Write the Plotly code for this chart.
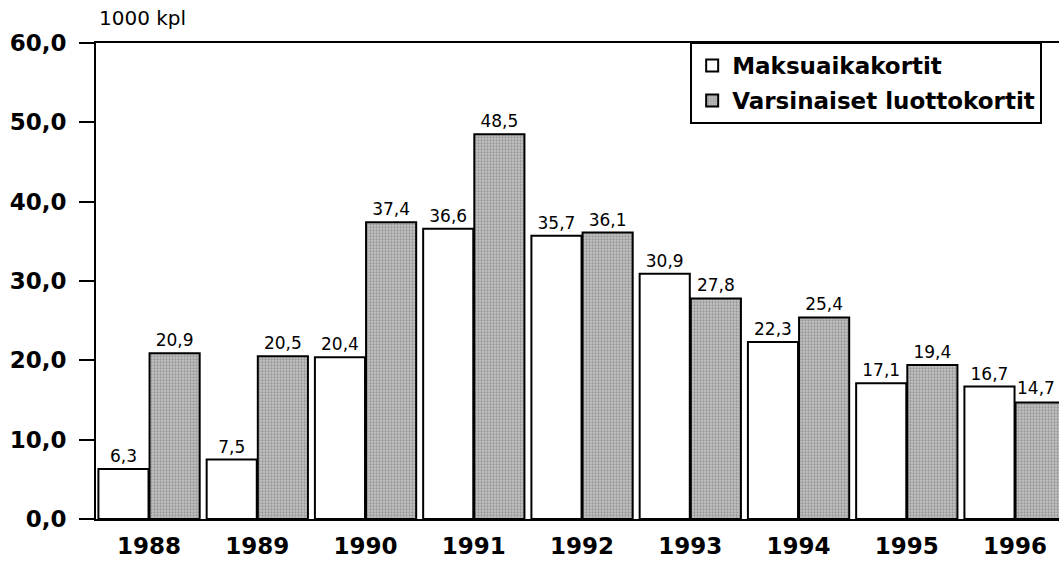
import plotly.graph_objects as go

years = ["1988", "1989", "1990", "1991", "1992", "1993", "1994", "1995", "1996"]
maksuaika = [6.3, 7.5, 20.4, 36.6, 35.7, 30.9, 22.3, 17.1, 16.7]
varsinaiset = [20.9, 20.5, 37.4, 48.5, 36.1, 27.8, 25.4, 19.4, 14.7]
yticks = [0, 10, 20, 30, 40, 50, 60]
ytick_text = ["0,0", "10,0", "20,0", "30,0", "40,0", "50,0", "60,0"]

BOLD = dict(family="DejaVu Sans", weight="bold", color="black")
LABEL_FONT = dict(size=17, color="black", family="DejaVu Sans")


def fi(v):
    return f"{v:.1f}".replace(".", ",")


# last grey label sits at the right edge, drawn as an annotation so it stays visible
grey_text = [fi(v) for v in varsinaiset[:-1]] + [""]

fig = go.Figure()
fig.add_trace(go.Bar(
    x=years, y=maksuaika, name="Maksuaikakortit", legendgroup="a",
    marker=dict(color="white", line=dict(color="black", width=2)),
    text=[fi(v) for v in maksuaika], textposition="outside",
    textfont=LABEL_FONT, cliponaxis=False,
))
fig.add_trace(go.Bar(
    x=years, y=varsinaiset, name="Varsinaiset luottokortit", legendgroup="b",
    marker=dict(color="#b8b8b8", line=dict(color="black", width=2),
                pattern=dict(shape=".", fgcolor="#6a6a6a", bgcolor="#c4c4c4",
                             size=3, solidity=0.45)),
    text=grey_text, textposition="outside",
    textfont=LABEL_FONT, cliponaxis=False,
))

fig.update_layout(
    width=1059, height=566,
    barmode="group", bargap=0.055, bargroupgap=0.02,
    margin=dict(l=96, r=0, t=43, b=47, autoexpand=False),
    paper_bgcolor="white", plot_bgcolor="white",
    font=dict(family="DejaVu Sans", color="black"),
    showlegend=True,
    legend=dict(
        x=0.617, y=1.002, xanchor="left", yanchor="top",
        font=dict(size=23, **BOLD),
        bordercolor="black", borderwidth=2, bgcolor="white",
        tracegroupgap=2,
    ),
    annotations=[
        dict(text="1000 kpl", xref="paper", yref="paper", x=0.001, y=1.0525,
             xanchor="left", yanchor="middle", showarrow=False,
             font=dict(size=20, color="black", family="DejaVu Sans")),
        dict(text=fi(varsinaiset[-1]), xref="x", yref="y", x=len(years) - 1,
             y=varsinaiset[-1], xanchor="right", yanchor="bottom",
             xshift=42, yshift=2, showarrow=False, font=LABEL_FONT),
    ],
)
fig.update_xaxes(
    type="category",
    range=[-0.49, 8.406], showline=True, linecolor="black", linewidth=2,
    mirror=True, ticks="", showgrid=False, ticklabelstandoff=5,
    tickfont=dict(size=23, **BOLD),
)
fig.update_yaxes(
    range=[0, 60], tickvals=yticks, ticktext=ytick_text,
    showline=True, linecolor="black", linewidth=2, ticks="outside",
    ticklen=15, tickwidth=1.5, tickcolor="black", showgrid=False, zeroline=False,
    ticklabelstandoff=8,
    tickfont=dict(size=23, **BOLD),
)

fig.write_html("out.html", config={"displayModeBar": False},
               post_script="document.body.style.margin='0';")
